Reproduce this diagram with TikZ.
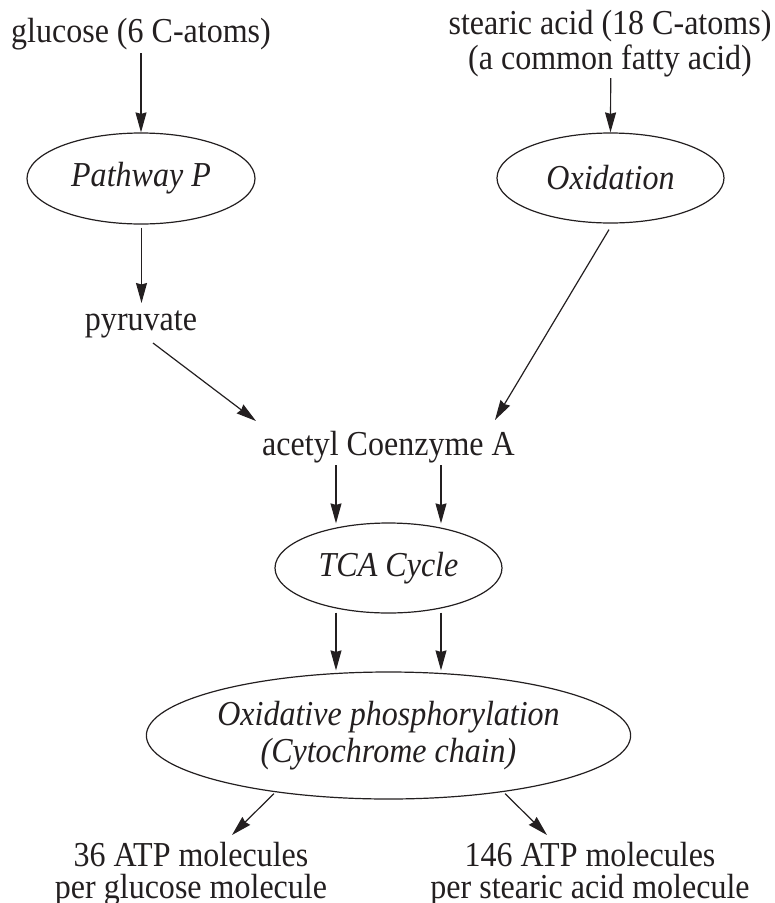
\documentclass[tikz,border=0pt]{standalone}
\usepackage{fontspec}
\setmainfont{Liberation Serif}[FakeStretch=0.915]
\usetikzlibrary{arrows.meta,shapes.geometric,calc}
\definecolor{ink}{HTML}{231F20}
\begin{document}
\begin{tikzpicture}[x=1pt,y=-1pt,
  txt/.style={inner sep=0pt, align=center, text=ink, font=\fontsize{35}{35}\selectfont},
  ell/.style={draw=ink, ellipse, inner sep=0pt, line width=1.2pt, text=ink, font=\fontsize{35}{37}\selectfont\itshape, align=center},
  arr/.style={draw=ink, line width=1.2pt, -{Stealth[length=20pt,width=11pt,inset=1.5pt]}}]
\useasboundingbox (0,0) rectangle (775,903);
\node[txt, anchor=base] (glc) at (141,42) {glucose (6 C-atoms)};
\node[txt, anchor=base] (ste) at (610,69) {stearic acid (18 C-atoms)\\(a common fatty acid)};
\node[ell, minimum width=228pt, minimum height=91pt] (pp) at (141,178.5) {Pathway P};
\node[ell, minimum width=227pt, minimum height=90pt] (ox) at (610.5,178) {Oxidation};
\node[txt, anchor=base] (pyr) at (141,330) {pyruvate};
\node[txt, anchor=base] (aca) at (388.5,455.5) {acetyl Coenzyme A};
\node[ell, minimum width=227pt, minimum height=90pt] (tca) at (388.5,568) {TCA Cycle};
\node[ell, minimum width=439pt, minimum height=127pt] (oxp) at (388.5,735.5) {Oxidative phosphorylation\\(Cytochrome chain)};
\node[txt, anchor=base, font=\fontsize{35}{32}\selectfont] (r1) at (191,898) {36 ATP molecules\\per glucose molecule};
\node[txt, anchor=base, font=\fontsize{35}{32}\selectfont] (r2) at (590,898) {146 ATP molecules\\per stearic acid molecule};
% connectors
\draw[arr] ($(glc.base)+(0,11)$) -- (pp.north);
\draw[arr] ($(ste.base)+(0.7,9)$) -- (ox.north);
\draw[arr] ($(pp.south)+(0.5,3)$) -- ($(pyr.base)+(0.5,-27)$);
\draw[arr] ($(pyr.base)+(12,13)$) -- ($(aca.base)+(-132.5,-34.5)$);
\draw[arr] ($(ox.south)+(-1.5,6)$) -- ($(aca.base)+(106.5,-35.5)$);
\draw[arr] ($(aca.base)+(-52.5,9.5)$) -- ($(tca.north)+(-52.5,1)$);
\draw[arr] ($(aca.base)+(52.5,9.5)$) -- ($(tca.north)+(52.5,1)$);
\draw[arr] ($(tca.south)+(-52.5,-1)$) -- ($(oxp.north)+(-52.5,-1)$);
\draw[arr] ($(tca.south)+(52.5,-1)$) -- ($(oxp.north)+(52.5,-1)$);
\draw[arr] ($(oxp.south)+(-114.5,-6)$) -- ($(r1.base)+(41,-63)$);
\draw[arr] ($(oxp.south)+(116.5,-6)$) -- ($(r2.base)+(-43,-63)$);
\end{tikzpicture}
\end{document}
